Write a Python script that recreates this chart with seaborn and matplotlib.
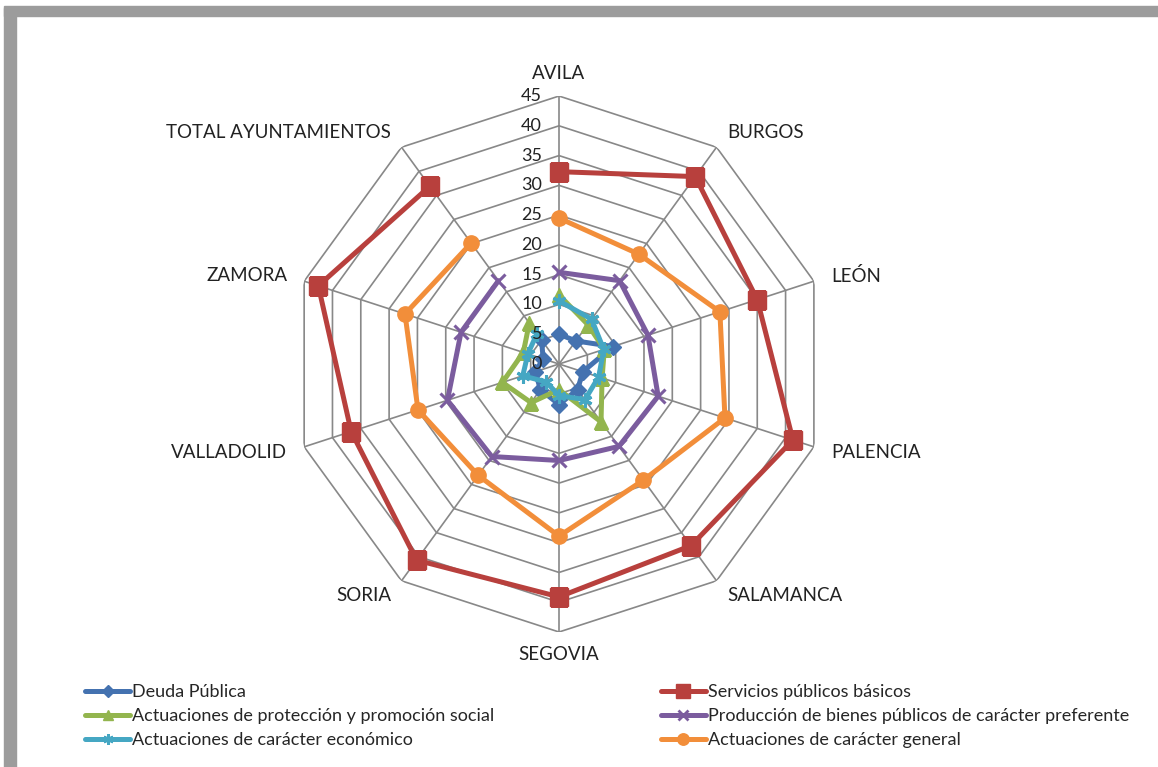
"""
Radar chart: distribución del gasto por provincias (Castilla y León)
"""
import numpy as np
import pandas as pd
import matplotlib
matplotlib.use("Agg")
import matplotlib.pyplot as plt
import matplotlib.transforms as mtransforms
from matplotlib.lines import Line2D
from matplotlib.patches import Rectangle
import seaborn as sns

provincias = ["AVILA", "BURGOS", "LEÓN", "PALENCIA", "SALAMANCA", "SEGOVIA",
              "SORIA", "VALLADOLID", "ZAMORA", "TOTAL AYUNTAMIENTOS"]

deuda = [5.0, 4.8, 9.5, 4.2, 5.3, 6.8, 5.3, 4.2, 2.8, 5.0]
servicios = [32.3, 38.9, 35.0, 41.3, 37.7, 39.1, 40.7, 36.7, 42.5, 36.9]
proteccion = [11.6, 8.2, 8.0, 7.6, 12.0, 4.3, 8.0, 10.0, 6.3, 8.5]
produccion = [15.4, 17.3, 15.7, 17.5, 17.1, 16.2, 19.2, 19.7, 17.3, 17.3]
economico = [10.6, 9.3, 7.9, 7.0, 7.4, 5.3, 3.7, 6.4, 5.5, 6.3]
general = [24.5, 22.8, 28.4, 29.3, 24.1, 28.9, 23.1, 24.9, 27.2, 25.1]

series_names = ["Deuda Pública", "Servicios públicos básicos",
                "Actuaciones de protección y promoción social",
                "Producción de bienes públicos de carácter preferente",
                "Actuaciones de carácter económico",
                "Actuaciones de carácter general"]
series_values = [deuda, servicios, proteccion, produccion, economico, general]
colors = ["#4472B0", "#B8403D", "#93B54E", "#7B5C9E", "#45A7C3", "#F28E3A"]
markers = ["D", "s", "^", "x", (6, 2, 0), "o"]
msizes = [8, 13, 10, 10, 10, 11]

r_ticks = list(range(0, 50, 5))

sns.set_theme(style="white")
plt.rcParams["font.family"] = ["Lato", "DejaVu Sans"]

fig = plt.figure(figsize=(11.58, 7.67), dpi=100)
fig.patch.set_facecolor("white")

# picture frame (grey border on left and top)
fig.patches.append(Rectangle((4 / 1158, 0), 12 / 1158, 1 - 8 / 767,
                             transform=fig.transFigure, color="#9c9c9c", zorder=0))
fig.patches.append(Rectangle((4 / 1158, 1 - 16 / 767), 1, 10 / 767,
                             transform=fig.transFigure, color="#9c9c9c", zorder=0))

ax = fig.add_axes([0.2513, 0.176, 0.4629, 0.6988], projection="polar")
ax.set_theta_zero_location("N")
ax.set_theta_direction(-1)
ax.set_ylim(0, 45)
ax.grid(False)
ax.spines["polar"].set_visible(False)
ax.set_xticks([])
ax.set_yticks([])
ax.patch.set_alpha(0)

n = len(provincias)
theta = np.linspace(0, 2 * np.pi, n, endpoint=False)
theta_closed = np.append(theta, 0)

# decagon grid
grid_col = "#888888"
for v in r_ticks[1:]:
    ax.plot(theta_closed, [v] * (n + 1), color=grid_col, lw=1.2, zorder=1)
for t in theta:
    ax.plot([t, t], [0, 45], color=grid_col, lw=1.2, zorder=1)

# radial tick labels
off = mtransforms.offset_copy(ax.transData, fig=fig, x=-17, y=0, units="dots")
for v in r_ticks:
    ax.text(0, v, str(v), transform=off, ha="right", va="center",
            fontsize=13, color="#222222", zorder=5)

# category labels
for t, lab in zip(theta, provincias):
    s, c = np.sin(t), np.cos(t)
    if abs(s) < 0.1:
        ha = "center"
        va = "bottom" if c > 0 else "top"
        r = 47.3
    else:
        ha = "left" if s > 0 else "right"
        va = "center"
        r = 48.0
    ax.text(t, r, lab, ha=ha, va=va, fontsize=13.5, color="#222222")

for name, vals, col, mk, ms in zip(series_names, series_values, colors, markers, msizes):
    df = pd.DataFrame({"theta": theta_closed, "valor": vals + vals[:1]})
    sns.lineplot(data=df, x="theta", y="valor", ax=ax, sort=False, color=col,
                 lw=3.6, marker=mk, markersize=ms, markeredgecolor=col,
                 markeredgewidth=2.2 if mk in ("x", (6, 2, 0)) else 1,
                 zorder=3)

ax.set_xlabel("")
ax.set_ylabel("")
ax.set_ylim(0, 45)

handles = []
for col, mk, ms in zip(colors, markers, msizes):
    handles.append(Line2D([], [], color=col, lw=3.6, marker=mk, markersize=ms * 0.75,
                          markeredgecolor=col,
                          markeredgewidth=2 if mk in ("x", (6, 2, 0)) else 1))
order = [0, 2, 4, 1, 3, 5]
fig.legend([handles[i] for i in order], [series_names[i] for i in order],
           ncol=2, mode="expand", loc="upper left",
           bbox_to_anchor=(85 / 1158, 0, 1044 / 1158, 1 - 684 / 767),
           frameon=False, fontsize=13, handlelength=2.5, handletextpad=0.1,
           labelspacing=0.45, borderaxespad=0, borderpad=0)

fig.savefig("out.png", dpi=100, facecolor="white")
